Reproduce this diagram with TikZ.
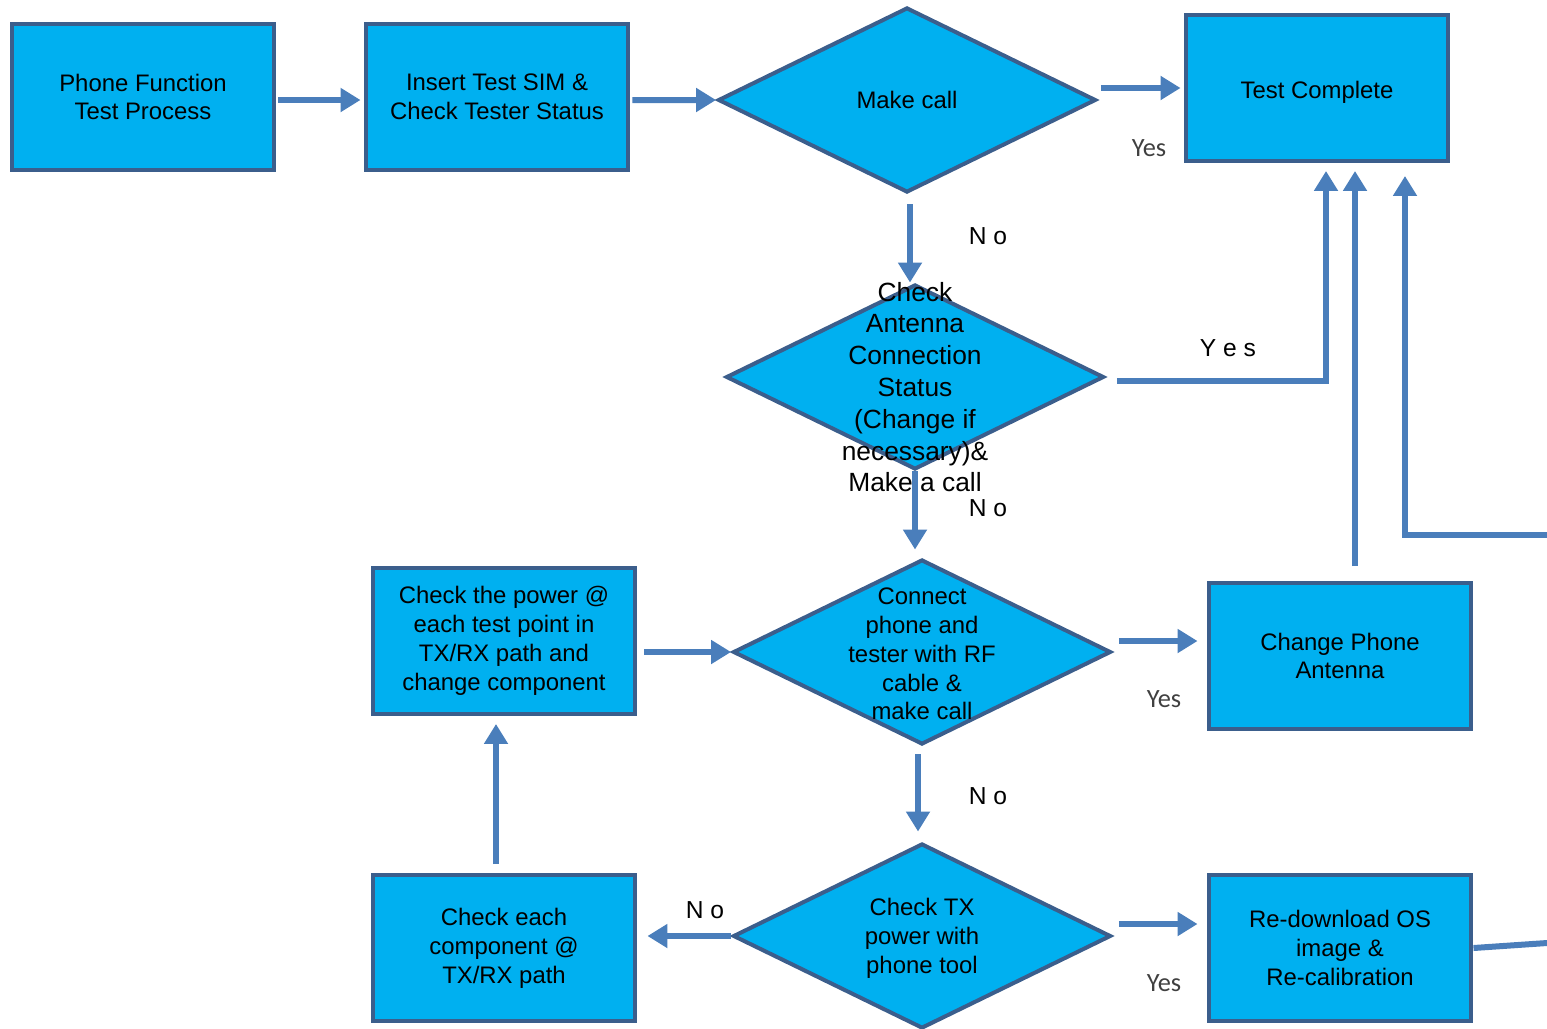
\documentclass[tikz,border=0pt]{standalone}
\usepackage{fontspec}
\setmainfont{Liberation Sans}
\newfontfamily\yesfont{Carlito}
\usetikzlibrary{shapes.geometric,arrows.meta}
\definecolor{boxfill}{HTML}{00B0F0}
\definecolor{boxline}{HTML}{3B5E8C}
\definecolor{flowline}{HTML}{4A7EBB}
\definecolor{yesgray}{HTML}{404040}
\tikzset{
  procbox/.style={draw=boxline, fill=boxfill, line width=0.08cm, minimum width=5.26cm, minimum height=2.92cm, align=center, font=\fontsize{13.6}{16.4}\selectfont},
  decbox/.style={diamond, draw=boxline, fill=boxfill, line width=0.08cm, minimum width=7.56cm, minimum height=3.7cm, inner sep=0pt},
  dectext/.style={align=center, font=\fontsize{13.6}{16.4}\selectfont},
  flow/.style={draw=flowline, line width=0.12cm, -{Triangle[length=0.4cm,width=0.46cm]}},
  link/.style={draw=flowline, line width=0.12cm},
  nolabel/.style={font=\fontsize{14}{16}\selectfont},
  yeslabel/.style={font=\yesfont\fontsize{15}{18}\selectfont, text=yesgray},
}
\begin{document}
\begin{tikzpicture}[x=0.02cm, y=-0.02cm]
            \useasboundingbox (0,0) rectangle (1547,1028);

            \node[procbox] (pf) at (143,97) {Phone Function\\Test Process};
            \node[procbox] (sim) at (497,97) {Insert Test SIM \&\\Check Tester Status};
            \node[decbox] (call) at (907,100) {};
            \node[procbox, text height=0.52cm] (done) at (1317,88) {Test Complete};
            \node[decbox] (ant) at (915,377) {};
            \node[decbox] (rf) at (922,652) {};
            \node[procbox] (chant) at (1340,656) {Change Phone\\Antenna};
            \node[procbox] (pwr) at (504,641) {Check the power @\\each test point in\\TX/RX path and\\change component};
            \node[decbox] (tx) at (922,936) {};
            \node[procbox] (os) at (1340,948) {Re-download OS\\image \&\\Re-calibration};
            \node[procbox] (comp) at (504,948) {Check each\\component @\\TX/RX path};

            % ends of the lines that leave the page
            \coordinate (offR) at (1547,535);
            \coordinate (offR2) at (1547,943);

            \draw[flow, shorten <=0.04cm, shorten >=0.06cm] ([yshift=-0.06cm]pf.east) -- ([yshift=-0.06cm]pf.east -| sim.west);
            \draw[flow, shorten <=0.04cm] ([yshift=-0.06cm]sim.east) -- (call.west);
            \draw[flow, shorten <=0.06cm, shorten >=0.06cm] (call.east |- done.west) -- (done.west);
            \draw[flow] ([xshift=0.06cm,yshift=-0.2cm]call.south) -- ([xshift=0.06cm]call.south |- ant.north);
            \draw[flow, shorten >=0.16cm] ([xshift=0.22cm,yshift=-0.08cm]ant.east) -| ([xshift=0.18cm]done.south);
            \draw[flow, shorten >=0.16cm] (ant.south) -- (ant.south |- rf.north);
            \draw[flow, shorten >=0.18cm] ([xshift=0.12cm,yshift=0.22cm]rf.east) -- ([yshift=0.22cm]rf.east -| chant.west);
            \draw[flow, shorten <=0.3cm, shorten >=0.16cm] ([xshift=0.3cm]chant.north) -- ([xshift=0.3cm]chant.north |- done.south);
            \draw[flow, shorten >=0.26cm] (offR) -| ([xshift=1.76cm]done.south);
            \draw[flow, shorten <=0.14cm] (pwr.east |- rf.west) -- (rf.west);
            \draw[flow, shorten <=0.16cm, shorten >=0.2cm] ([xshift=-0.08cm]rf.south) -- ([xshift=-0.08cm]tx.north);
            \draw[flow, shorten >=0.18cm] ([xshift=0.12cm,yshift=0.24cm]tx.east) -- ([yshift=0.24cm]tx.east -| os.west);
            \draw[flow, shorten >=0.2cm] (tx.west) -- (tx.west -| comp.east);
            \draw[flow, shorten <=0.18cm, shorten >=0.16cm] ([xshift=-0.16cm]comp.north) -- ([xshift=-0.16cm]pwr.south);
            \draw[link] (os.east) -- (offR2);

            \node[dectext] (calltxt) at (call) {Make call};
            \node[dectext, font=\fontsize{15}{18.1}\selectfont] (anttxt) at (915,387) {Check\\Antenna\\Connection\\Status\\(Change if\\necessary)\&\\Make a call};
            \node[dectext] (rftxt) at (922,654) {Connect\\phone and\\tester with RF\\cable \&\\make call};
            \node[dectext] (txtxt) at (922,938) {Check TX\\power with\\phone tool};

            \node[yeslabel] (y1) at (1149,148) {Yes};
            \node[nolabel] (n1) at (988,236) {N o};
            \node[nolabel] (y2) at (1228,348) {Y e s};
            \node[nolabel] (n2) at (988,508) {N o};
            \node[yeslabel] (y3) at (1164,699) {Yes};
            \node[nolabel] (n3) at (988,796) {N o};
            \node[yeslabel] (y4) at (1164,983) {Yes};
            \node[nolabel] (n4) at (705,910) {N o};
          \end{tikzpicture}
\end{document}
